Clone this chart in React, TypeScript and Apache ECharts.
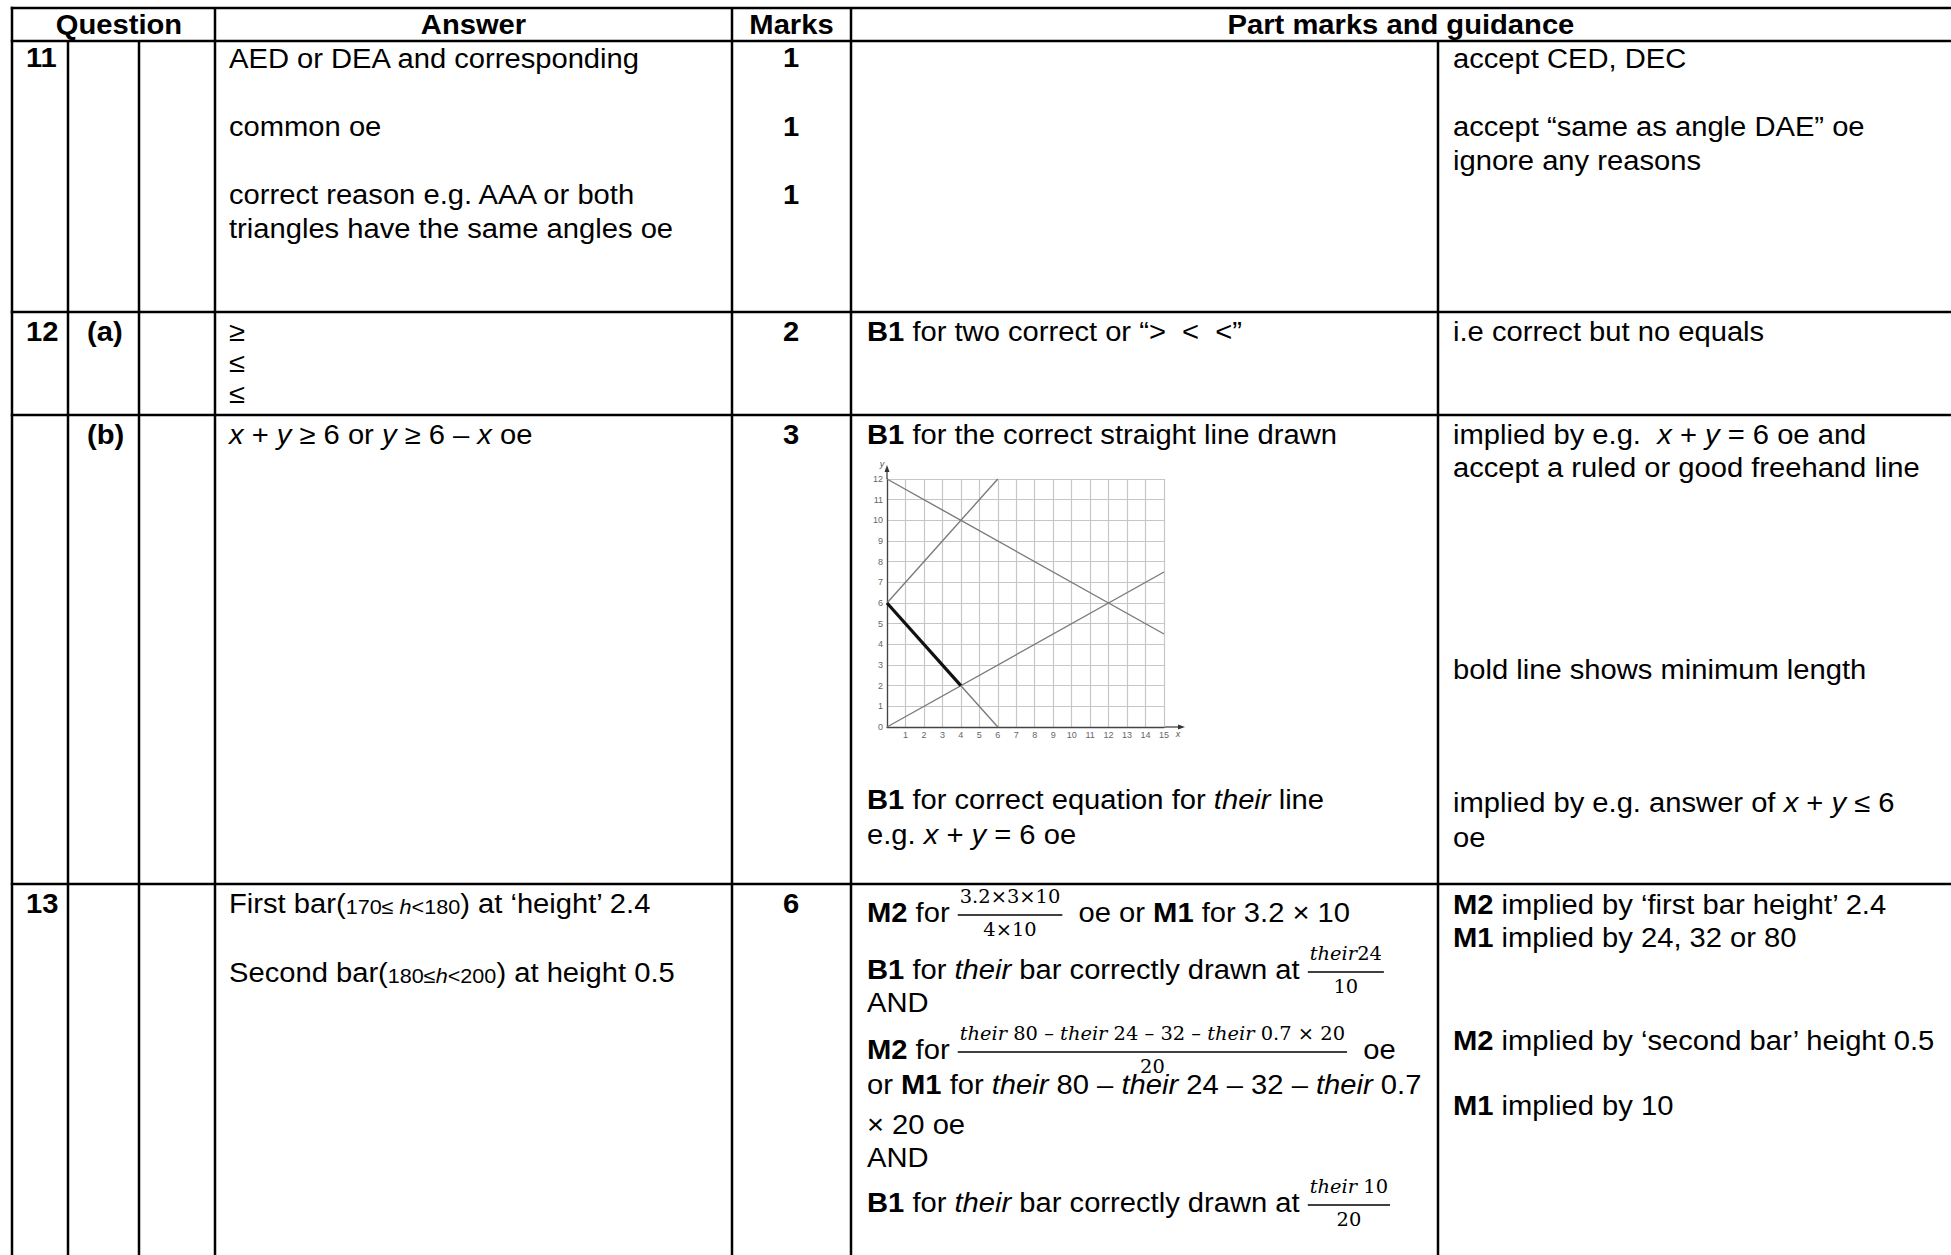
import React, { useEffect, useRef } from 'react';
import * as echarts from 'echarts';

// ---------------- DATA ----------------
const headers = ['Question', 'Answer', 'Marks', 'Part marks and guidance'];
const questionNums = ['11', '12', '13'];
const questionParts = ['(a)', '(b)'];
const marks = ['1', '1', '1', '2', '3', '6'];

// markup: *bold*  _italic_  ^small^  %small italic%  [[numerator|denominator]]
const answer11 = ['AED or DEA and corresponding', 'common oe', 'correct reason e.g. AAA or both', 'triangles have the same angles oe'];
const guidance11 = ['accept CED, DEC', 'accept “same as angle DAE” oe', 'ignore any reasons'];
const answer12a = ['≥', '≤', '≤'];
const part12a = ['*B1* for two correct or “>  <  <”'];
const guidance12a = ['i.e correct but no equals'];
const answer12b = ['_x_ + _y_ ≥ 6 or _y_ ≥ 6 – _x_ oe'];
const part12b = ['*B1* for the correct straight line drawn', '*B1* for correct equation for _their_ line', 'e.g. _x_ + _y_ = 6 oe'];
const guidance12b = ['implied by e.g.  _x_ + _y_ = 6 oe and', 'accept a ruled or good freehand line', 'bold line shows minimum length', 'implied by e.g. answer of _x_ + _y_ ≤ 6', 'oe'];
const answer13 = ['First bar(^170≤ ^%h%^<180^) at ‘height’ 2.4', 'Second bar(^180≤^%h%^<200^) at height 0.5'];
const part13 = [
  '*M2* for [[3.2×3×10|4×10]]  oe or *M1* for 3.2 × 10',
  '*B1* for _their_ bar correctly drawn at [[_their_24|10]]',
  'AND',
  '*M2* for [[_their_ 80 – _their_ 24 – 32 – _their_ 0.7 × 20|20]]  oe',
  'or *M1* for _their_ 80 – _their_ 24 – 32 – _their_ 0.7',
  '× 20 oe',
  'AND',
  '*B1* for _their_ bar correctly drawn at [[_their_ 10|20]]',
];
const guidance13 = ['*M2* implied by ‘first bar height’ 2.4', '*M1* implied by 24, 32 or 80', '*M2* implied by ‘second bar’ height 0.5', '*M1* implied by 10'];

// graph (x + y = 6 question)
const lineA = [[0, 12], [15, 4.5]];
const lineB = [[0, 6], [6, 12]];
const lineC = [[0, 0], [15, 7.5]];
const lineD = [[0, 6], [6, 0]];
const boldLine = [[0, 6], [4, 2]];

// ---------------- LAYOUT ----------------
const W = 1951, H = 1255;
const C = { L: 12, Q2: 68, Q3: 139, ANS: 215, MK: 732, P1: 851, P2: 1438, R: 1951 };
const R = { T: 8, HEAD: 41, R11: 312, R12A: 415, R12B: 884, B: 1255 };
const TX = { Q1: 26, Q2: 87, ANS: 229, MK: 791, P1: 867, P2: 1453 };
const G = { left: 887, top: 479, width: 277, height: 248 };

const SANS = '"Liberation Sans", Arial, sans-serif';
const SERIF = '"DejaVu Serif", serif';
const F = 27;
const SX = 1.08;
const SMALL = 20;
const SMALL_DY = 3;
const FRAC = 18;
const BAR_DY = 2, NUM_DY = -16, DEN_DY = 17;
const BORDER = 2.5;

type Run = { t: string; b?: boolean; i?: boolean; sm?: boolean; frac?: [Run[], Run[]] };

function parse(s: string): Run[] {
  const out: Run[] = [];
  const re = /\[\[(.+?)\|(.+?)\]\]|\*(.+?)\*|_(.+?)_|\^(.+?)\^|%(.+?)%|([^*_^%[]+)/g;
  let m: RegExpExecArray | null;
  while ((m = re.exec(s))) {
    if (m[1] !== undefined) out.push({ t: '', frac: [parse(m[1]), parse(m[2])] });
    else if (m[3] !== undefined) out.push({ t: m[3], b: true });
    else if (m[4] !== undefined) out.push({ t: m[4], i: true });
    else if (m[5] !== undefined) out.push({ t: m[5], sm: true });
    else if (m[6] !== undefined) out.push({ t: m[6], sm: true, i: true });
    else if (m[7] !== undefined) out.push({ t: m[7] });
  }
  return out;
}

let _ctx: CanvasRenderingContext2D | null = null;
function measure(t: string, font: string) {
  if (!_ctx) _ctx = document.createElement('canvas').getContext('2d');
  _ctx!.font = font;
  return _ctx!.measureText(t).width;
}

function runItem(r: Run, size: number, family: string) {
  const sz = r.sm ? SMALL : size;
  const font = `${r.i ? 'italic ' : ''}${r.b ? 'bold ' : ''}${sz}px ${family}`;
  const w = measure(r.t, font) * SX;
  const el = (x: number, y: number) => ({
    type: 'text', x, y: y + (r.sm ? SMALL_DY : 0), scaleX: SX, silent: true,
    style: {
      text: r.t, fontSize: sz, fontFamily: family, fontWeight: r.b ? 'bold' : 'normal',
      fontStyle: r.i ? 'italic' : 'normal', fill: '#000', align: 'left', verticalAlign: 'middle',
    },
  });
  return { w, el };
}

function lineEls(s: string, x0: number, y: number, align: 'left' | 'center' = 'left', forceBold = false) {
  const runs = parse(s).map(r => (forceBold ? { ...r, b: true } : r));
  const items = runs.map(r => {
    if (r.frac) {
      const num = r.frac[0].map(q => runItem(q, FRAC, SERIF));
      const den = r.frac[1].map(q => runItem(q, FRAC, SERIF));
      const nw = num.reduce((a, b) => a + b.w, 0);
      const dw = den.reduce((a, b) => a + b.w, 0);
      const fw = Math.max(nw, dw) + 4;
      return {
        w: fw,
        els: (x: number) => {
          const out: any[] = [{ type: 'line', silent: true, shape: { x1: x, y1: y + BAR_DY, x2: x + fw, y2: y + BAR_DY }, style: { stroke: '#000', lineWidth: 1.6 } }];
          let nx = x + (fw - nw) / 2;
          num.forEach(q => { out.push(q.el(nx, y + NUM_DY)); nx += q.w; });
          let dx = x + (fw - dw) / 2;
          den.forEach(q => { out.push(q.el(dx, y + DEN_DY)); dx += q.w; });
          return out;
        },
      };
    }
    const it = runItem(r, F, SANS);
    return { w: it.w, els: (x: number) => [it.el(x, y)] };
  });
  const total = items.reduce((a, b) => a + b.w, 0);
  let x = align === 'center' ? x0 - total / 2 : x0;
  const out: any[] = [];
  items.forEach(it => { out.push(...it.els(x)); x += it.w; });
  return out;
}

function hLine(x1: number, x2: number, y: number) {
  return { type: 'line', silent: true, shape: { x1, y1: y, x2, y2: y }, style: { stroke: '#000', lineWidth: BORDER } };
}
function vLine(x: number, y1: number, y2: number) {
  return { type: 'line', silent: true, shape: { x1: x, y1, x2: x, y2 }, style: { stroke: '#000', lineWidth: BORDER } };
}

function buildOption() {
  const els: any[] = [];
  // borders
  [R.T, R.HEAD, R.R11, R.R12A, R.R12B].forEach(y => els.push(hLine(C.L - BORDER / 2, C.R, y)));
  els.push(vLine(C.L, R.T - BORDER / 2, R.B));
  els.push(vLine(C.Q2, R.HEAD, R.B));
  els.push(vLine(C.Q3, R.HEAD, R.B));
  els.push(vLine(C.ANS, R.T, R.B));
  els.push(vLine(C.MK, R.T, R.B));
  els.push(vLine(C.P1, R.T, R.B));
  els.push(vLine(C.P2, R.HEAD, R.B));

  // headers
  const headY = (R.T + R.HEAD) / 2;
  const headCenters = [119, (C.ANS + C.MK) / 2, (C.MK + C.P1) / 2, (C.P1 + C.R) / 2];
  headers.forEach((h, i) => els.push(...lineEls(h, headCenters[i], headY, 'center', true)));

  // question numbers
  const qY = [58, 332, 904];
  questionNums.forEach((q, i) => els.push(...lineEls(q, TX.Q1, qY[i], 'left', true)));
  const pY = [332, 435];
  questionParts.forEach((q, i) => els.push(...lineEls(q, TX.Q2, pY[i], 'left', true)));

  // marks
  const mY = [58, 127, 195, 332, 435, 904];
  marks.forEach((m, i) => els.push(...lineEls(m, TX.MK, mY[i], 'center', true)));

  // row 11
  const a11Y = [59, 127, 195, 229];
  answer11.forEach((t, i) => els.push(...lineEls(t, TX.ANS, a11Y[i])));
  const g11Y = [59, 127, 161];
  guidance11.forEach((t, i) => els.push(...lineEls(t, TX.P2, g11Y[i])));

  // row 12a
  const a12aY = [332, 363, 394];
  answer12a.forEach((t, i) => els.push(...lineEls(t, TX.ANS, a12aY[i])));
  part12a.forEach(t => els.push(...lineEls(t, TX.P1, 332)));
  guidance12a.forEach(t => els.push(...lineEls(t, TX.P2, 332)));

  // row 12b
  answer12b.forEach(t => els.push(...lineEls(t, TX.ANS, 435)));
  const p12bY = [435, 800, 835];
  part12b.forEach((t, i) => els.push(...lineEls(t, TX.P1, p12bY[i])));
  const g12bY = [435, 468, 670, 803, 838];
  guidance12b.forEach((t, i) => els.push(...lineEls(t, TX.P2, g12bY[i])));

  // row 13
  const a13Y = [904, 973];
  answer13.forEach((t, i) => els.push(...lineEls(t, TX.ANS, a13Y[i])));
  const p13Y = [913, 970, 1003, 1050, 1085, 1125, 1158, 1203];
  part13.forEach((t, i) => els.push(...lineEls(t, TX.P1, p13Y[i])));
  const g13Y = [905, 938, 1041, 1106];
  guidance13.forEach((t, i) => els.push(...lineEls(t, TX.P2, g13Y[i])));

  // graph decorations (axis arrows and names)
  const gx0 = G.left, gy0 = G.top + G.height, gx1 = G.left + G.width, gy1 = G.top;
  els.push({ type: 'line', silent: true, shape: { x1: gx0, y1: gy1, x2: gx0, y2: gy1 - 9 }, style: { stroke: '#444', lineWidth: 1.3 } });
  els.push({ type: 'polygon', silent: true, shape: { points: [[gx0, gy1 - 14], [gx0 - 2.5, gy1 - 7], [gx0 + 2.5, gy1 - 7]] }, style: { fill: '#333' } });
  els.push({ type: 'line', silent: true, shape: { x1: gx1, y1: gy0, x2: gx1 + 16, y2: gy0 }, style: { stroke: '#444', lineWidth: 1.3 } });
  els.push({ type: 'polygon', silent: true, shape: { points: [[gx1 + 21, gy0], [gx1 + 14, gy0 - 2.5], [gx1 + 14, gy0 + 2.5]] }, style: { fill: '#333' } });
  els.push({ type: 'text', silent: true, x: gx0 - 5, y: gy1 - 15, style: { text: 'y', fontSize: 9, fontStyle: 'italic', fontFamily: SANS, fill: '#555', align: 'center', verticalAlign: 'middle' } });
  els.push({ type: 'text', silent: true, x: gx1 + 14, y: gy0 + 7, style: { text: 'x', fontSize: 9, fontStyle: 'italic', fontFamily: SANS, fill: '#555', align: 'center', verticalAlign: 'middle' } });

  const thin = (data: number[][]) => ({
    type: 'line', data, symbol: 'none', silent: true, z: 3,
    lineStyle: { color: '#7a7a7a', width: 1.4 },
  });

  return {
    animation: false,
    backgroundColor: '#fff',
    grid: { left: G.left, top: G.top, width: G.width, height: G.height, containLabel: false },
    xAxis: {
      type: 'value', min: 0, max: 15, interval: 1,
      axisLine: { show: true, onZero: false, lineStyle: { color: '#444', width: 1.3 } },
      axisTick: { show: false },
      axisLabel: { fontSize: 9, color: '#666', margin: 3, fontFamily: SANS, formatter: (v: number) => (v === 0 ? '' : String(v)) },
      splitLine: { show: true, lineStyle: { color: '#c6c6c6', width: 1.2 } },
    },
    yAxis: {
      type: 'value', min: 0, max: 12, interval: 1,
      axisLine: { show: true, onZero: false, lineStyle: { color: '#444', width: 1.3 } },
      axisTick: { show: false },
      axisLabel: { fontSize: 9, color: '#666', margin: 4, fontFamily: SANS },
      splitLine: { show: true, lineStyle: { color: '#c6c6c6', width: 1.2 } },
    },
    series: [
      thin(lineA),
      thin(lineB),
      thin(lineC),
      thin(lineD),
      { type: 'line', data: boldLine, symbol: 'none', silent: true, z: 4, lineStyle: { color: '#111', width: 3.2 } },
    ],
    graphic: { elements: els },
  };
}

export default function App() {
  const ref = useRef<HTMLDivElement>(null);
  useEffect(() => {
    const el = ref.current!;
    const chart = echarts.init(el, undefined, { renderer: 'svg', width: W, height: H });
    chart.setOption(buildOption() as any);
    return () => chart.dispose();
  }, []);
  return <div ref={ref} style={{ position: 'absolute', left: 0, top: 0, width: W, height: H, background: '#fff' }} />;
}
